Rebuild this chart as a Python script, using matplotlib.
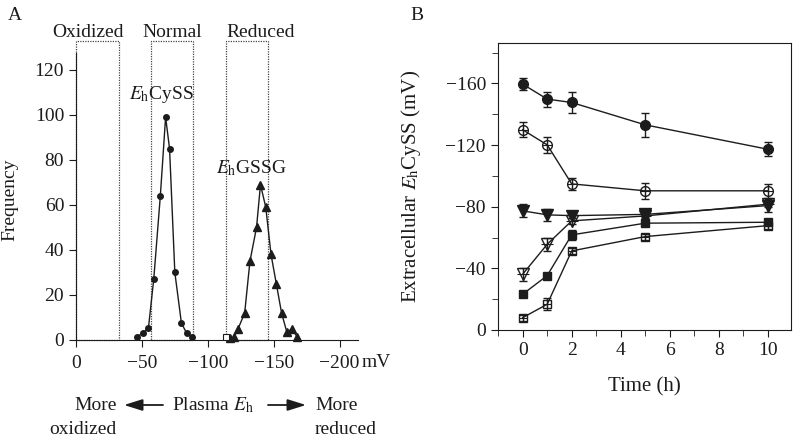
import matplotlib
matplotlib.use('Agg')
import matplotlib.pyplot as plt
from matplotlib.patches import Rectangle
from matplotlib.ticker import MultipleLocator

plt.rcParams['font.family'] = ['Liberation Serif', 'DejaVu Serif']
plt.rcParams['mathtext.fontset'] = 'stix'
plt.rcParams['axes.unicode_minus'] = True

# ---- panel A data: plasma Eh histograms ----
cyss_mv = [-46, -51, -55, -59, -64, -68, -71, -75, -80, -84, -88]
cyss_freq = [1.5, 3, 5.5, 27, 64, 99, 85, 30, 7.5, 3, 1.5]
gssg_mv = [-117, -120, -123, -128, -132, -137, -140, -144, -148, -152, -156, -160, -164, -168]
gssg_freq = [0.7, 1.2, 5, 12, 35, 50, 69, 59, 38, 25, 12, 3.5, 5, 1.2]
sq_mv = [-114]
sq_freq = [1.2]
regions = ['Oxidized', 'Normal', 'Reduced']
region_lo = [0, -57, -114]
region_hi = [-33, -89, -146]
region_label_x = [-9, -73, -140]
a_xticks = [0, -50, -100, -150, -200]
a_yticks = [0, 20, 40, 60, 80, 100, 120]

# ---- panel B data: extracellular EhCySS over time ----
time_h = [0, 1, 2, 5, 10]
filled_circle = [-159.5, -149.8, -147.6, -133.1, -117.3]
filled_circle_err = [4, 4.9, 7, 8, 4.5]
open_circle = [-129.9, -120.1, -94.8, -90.3, -90.3]
open_circle_err = [4.8, 5.2, 4, 5, 4.5]
filled_tri = [-77.3, -74.7, -74.2, -75, -80.7]
filled_tri_err = [4.3, 4, 1.5, 2, 4]
open_tri = [-36.2, -55.6, -70.8, -74, -81.6]
open_tri_err = [4.3, 4.3, 2, 1.5, 2]
filled_sq = [-23.2, -35.3, -61.7, -69.3, -69.9]
filled_sq_err = [1.5, 1.5, 3.5, 2, 2]
open_sq = [-8, -16.7, -51.3, -60.6, -67.7]
open_sq_err = [2, 3.8, 2, 2, 2]

ink = '#1c1c1c'
fs = 14

fig = plt.figure(figsize=(8, 4.42), dpi=100)

# ---------------- Panel A ----------------
ax = fig.add_axes([76 / 800, 1 - 340 / 442, 282 / 800, 287 / 442])
ax.plot(cyss_mv, cyss_freq, '-o', color=ink, lw=1, ms=4, clip_on=False, zorder=3)
ax.plot(gssg_mv, gssg_freq, '-^', color=ink, lw=1, ms=6, clip_on=False, zorder=3)
ax.plot(sq_mv, sq_freq, 's', mfc='white', mec=ink, mew=0.8, ms=4.5, clip_on=False, zorder=4)

for name, lo, hi, lx in zip(regions, region_lo, region_hi, region_label_x):
    ax.add_patch(Rectangle((lo, 0), hi - lo, 132.7, fill=False, ls=(0, (1, 1)),
                           lw=0.9, ec='#444444', clip_on=False, zorder=1))
    ax.text(lx, 134.8, name, ha='center', va='baseline', fontsize=fs, color=ink)

ax.text(-65, 107, r'$E_\mathrm{h}$CySS', ha='center', va='baseline', fontsize=fs, color=ink)
ax.text(-133, 74, r'$E_\mathrm{h}$GSSG', ha='center', va='baseline', fontsize=fs, color=ink)

ax.set_xlim(0, -214)
ax.set_ylim(0, 127.5)
ax.set_xticks(a_xticks)
ax.set_yticks(a_yticks)
ax.spines['top'].set_visible(False)
ax.spines['right'].set_visible(False)
for s in ['left', 'bottom']:
    ax.spines[s].set_color(ink)
ax.tick_params(direction='out', length=5, color=ink, labelsize=fs, labelcolor=ink)
ax.tick_params(axis='x', pad=6)
ax.text(-217, -10, 'mV', ha='left', va='center', fontsize=fs, color=ink)
ax.set_ylabel('Frequency', fontsize=fs, color=ink)
ax.yaxis.set_label_coords(-0.206, 0.488)

# arrows / caption under panel A
fig.text(117 / 800, 1 - 405 / 442, 'More', ha='right', va='center', fontsize=fs, color=ink)
fig.text(117 / 800, 1 - 429 / 442, 'oxidized', ha='right', va='center', fontsize=fs, color=ink)
fig.text(172 / 800, 1 - 405 / 442, r'Plasma $E_\mathrm{h}$', ha='left', va='center', fontsize=fs, color=ink)
fig.text(315 / 800, 1 - 405 / 442, 'More', ha='left', va='center', fontsize=fs, color=ink)
fig.text(315 / 800, 1 - 429 / 442, 'reduced', ha='left', va='center', fontsize=fs, color=ink)
arrow = dict(arrowstyle='-|>,head_length=0.8,head_width=0.25', color=ink, lw=1.3,
             mutation_scale=14, shrinkA=0, shrinkB=0)
ax.annotate('', xy=(124 / 800, 1 - 405 / 442), xytext=(163 / 800, 1 - 405 / 442),
            xycoords='figure fraction', textcoords='figure fraction', arrowprops=arrow,
            annotation_clip=False)
ax.annotate('', xy=(306 / 800, 1 - 405 / 442), xytext=(268 / 800, 1 - 405 / 442),
            xycoords='figure fraction', textcoords='figure fraction', arrowprops=arrow,
            annotation_clip=False)

fig.text(15 / 800, 1 - 15 / 442, 'A', ha='center', va='center', fontsize=fs, color=ink)
fig.text(417 / 800, 1 - 15 / 442, 'B', ha='center', va='center', fontsize=fs, color=ink)

# ---------------- Panel B ----------------
bx = fig.add_axes([497.7 / 800, 1 - 330 / 442, 293 / 800, 286.7 / 442])
series = [
    (filled_circle, filled_circle_err, 'o', ink, 7),
    (open_circle, open_circle_err, 'o', 'none', 7),
    (filled_tri, filled_tri_err, 'v', ink, 8),
    (open_tri, open_tri_err, 'v', 'none', 8),
    (filled_sq, filled_sq_err, 's', ink, 6),
    (open_sq, open_sq_err, 's', 'none', 6),
]
for vals, err, mk, fc, ms in series:
    bx.errorbar(time_h, vals, yerr=err, fmt='-' + mk, color=ink, mfc=fc, mec=ink,
                mew=1, ms=ms, lw=1, elinewidth=1, capsize=3, capthick=1)
    if fc == 'none':
        # open markers show a cross through them
        bx.plot(time_h, vals, ls='none', marker='+', color=ink, ms=ms, mew=0.8)

bx.set_xlim(-1.02, 10.94)
bx.set_ylim(0, -186)
bx.set_xticks([0, 2, 4, 6, 8, 10])
bx.set_yticks([0, -40, -80, -120, -160])
bx.xaxis.set_minor_locator(MultipleLocator(1))
bx.yaxis.set_minor_locator(MultipleLocator(20))
for s in bx.spines.values():
    s.set_color(ink)
bx.tick_params(which='both', direction='out', color=ink, labelsize=fs, labelcolor=ink,
               top=False, right=False)
bx.tick_params(which='major', length=5)
bx.tick_params(which='minor', length=4)
bx.set_xlabel('Time (h)', fontsize=15, color=ink)
bx.xaxis.set_label_coords(0.5, -0.165)
bx.set_ylabel(r'Extracellular $E_\mathrm{h}$CySS (mV)', fontsize=15, color=ink)
bx.yaxis.set_label_coords(-0.255, 0.5)

fig.savefig('out.png', dpi=100)
